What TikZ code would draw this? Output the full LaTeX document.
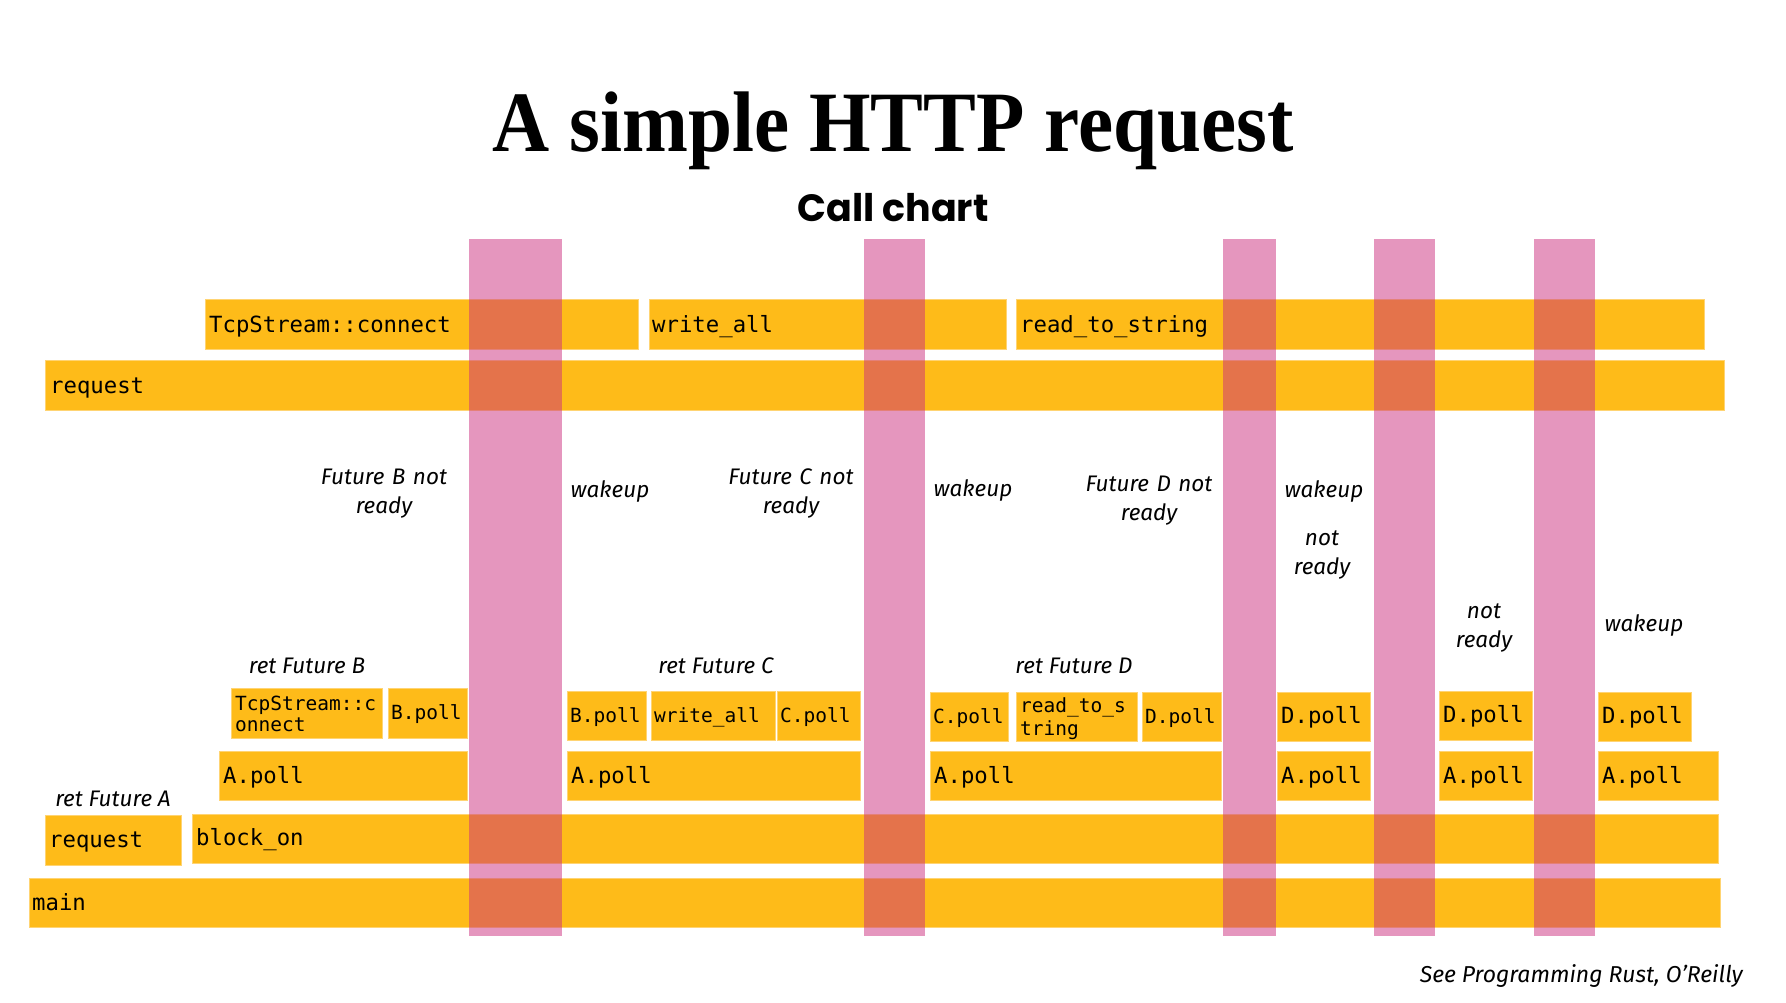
\documentclass[tikz,border=0pt]{standalone}
\usepackage{fontspec}
\setmonofont{DejaVu Sans Mono}
\newfontfamily\titlefont{Liberation Serif}
\newfontfamily\subfont{Poppins}
\newfontfamily\labfont{Fira Sans}
\definecolor{barorange}{RGB}{254,187,25}
\definecolor{baredge}{RGB}{255,212,115}
\definecolor{wakepink}{RGB}{203,45,125}
\tikzset{
  box/.style={anchor=north west, fill=barorange, draw=baredge, line width=0.8pt, inner sep=0pt, outer sep=0pt},
  wake/.style={anchor=north west, fill=wakepink, fill opacity=0.5, draw=none, inner sep=0pt, outer sep=0pt},
  code/.style={font=\ttfamily\fontsize{22.3}{24}\selectfont, inner sep=0pt, anchor=base west},
  smallcode/.style={font=\ttfamily\fontsize{19.5}{22}\selectfont, inner sep=0pt, anchor=base west},
  lab/.style={font=\labfont\itshape\fontsize{22.5}{29}\selectfont, inner sep=0pt, anchor=base},
  lab2/.style={lab, text width=170pt, align=center},
}
\newcommand\bx[5]{\node[box, minimum width={(#4-#2)*1pt}, minimum height={(#5-#3)*1pt}] (#1) at (#2,#3) {};}
\newcommand\wk[5]{\node[wake, minimum width={(#4-#2)*1pt}, minimum height={(#5-#3)*1pt}] (#1) at (#2,#3) {};}
\begin{document}
\begin{tikzpicture}[x=1pt,y=-1pt]
\useasboundingbox (0,0) rectangle (1786,1003);
% title
\node[font=\titlefont\bfseries\fontsize{86}{90}\selectfont, anchor=base, inner sep=0pt] (title) at (893,152) {\scalebox{0.92}[1]{A simple HTTP request}};
\node[font=\subfont\bfseries\fontsize{38}{42}\selectfont, anchor=base, inner sep=0pt] (sub) at (893,222) {Call chart};
% top rows
\bx{b_tcp}{205}{299}{638}{349}
\bx{b_write}{649}{299}{1006}{349}
\bx{b_read}{1016}{299}{1704}{349}
\bx{b_req}{45}{360}{1724}{410}
% lower groups
\bx{g1_tcp}{231}{688}{382}{738}
\bx{g1_b}{388}{688}{467}{738}
\bx{g1_a}{219}{751}{467}{800}
\bx{g2_b}{567}{691}{646}{740}
\bx{g2_w}{651}{691}{775}{740}
\bx{g2_c}{777}{691}{860}{740}
\bx{g2_a}{567}{751}{860}{800}
\bx{g3_c}{930}{692}{1008}{741}
\bx{g3_r}{1016}{692}{1137}{741}
\bx{g3_d}{1142}{692}{1221}{741}
\bx{g3_a}{930}{751}{1221}{800}
\bx{g4_d}{1277}{692}{1370}{741}
\bx{g4_a}{1277}{751}{1370}{800}
\bx{g5_d}{1439}{691}{1532}{740}
\bx{g5_a}{1439}{751}{1532}{800}
\bx{g6_d}{1598}{692}{1691}{741}
\bx{g6_a}{1598}{751}{1718}{800}
\bx{b_req2}{45}{815}{181}{865}
\bx{b_block}{192}{814}{1718}{863}
\bx{b_main}{29}{878}{1720}{927}
% wake bars
\wk{w1}{469}{239}{562}{936}
\wk{w2}{864}{239}{925}{936}
\wk{w3}{1223}{239}{1276}{936}
\wk{w4}{1374}{239}{1435}{936}
\wk{w5}{1534}{239}{1595}{936}
% code texts
\node[code] (t_tcp) at (209,332) {TcpStream::connect};
\node[code] (t_write) at (652,332) {write\_all};
\node[code] (t_read) at (1020,332) {read\_to\_string};
\node[code] (t_req) at (50,393) {request};
\node[smallcode, text width=140pt, align=left, font=\ttfamily\fontsize{19.5}{21}\selectfont] (t_g1tcp) at (235,710) {TcpStream::c\\onnect};
\node[smallcode] (t_g1b) at (391,719) {B.poll};
\node[code] (t_g1a) at (223,783) {A.poll};
\node[smallcode] (t_g2b) at (570,722) {B.poll};
\node[smallcode] (t_g2w) at (654,722) {write\_all};
\node[smallcode] (t_g2c) at (780,722) {C.poll};
\node[code] (t_g2a) at (571,783) {A.poll};
\node[smallcode] (t_g3c) at (933,723) {C.poll};
\node[smallcode, text width=120pt, align=left, font=\ttfamily\fontsize{19.5}{23}\selectfont] (t_g3r) at (1020,712) {read\_to\_s\\tring};
\node[smallcode] (t_g3d) at (1145,723) {D.poll};
\node[code] (t_g3a) at (934,783) {A.poll};
\node[code] (t_g4d) at (1281,723) {D.poll};
\node[code] (t_g4a) at (1281,783) {A.poll};
\node[code] (t_g5d) at (1443,722) {D.poll};
\node[code] (t_g5a) at (1443,783) {A.poll};
\node[code] (t_g6d) at (1602,723) {D.poll};
\node[code] (t_g6a) at (1602,783) {A.poll};
\node[code] (t_req2) at (49,847) {request};
\node[code] (t_block) at (196,845) {block\_on};
\node[code] (t_main) at (32,910) {main};
% labels
\node[lab2] (l_b) at (384,484) {Future B not\\ready};
\node[lab] (l_w1) at (610,497) {wakeup};
\node[lab2] (l_c) at (791,484) {Future C not\\ready};
\node[lab] (l_w2) at (973,496) {wakeup};
\node[lab2] (l_d) at (1149,491) {Future D not\\ready};
\node[lab] (l_w3) at (1324,497) {wakeup};
\node[lab2] (l_nr1) at (1322,545) {not\\ready};
\node[lab2] (l_nr2) at (1484,618) {not\\ready};
\node[lab] (l_w4) at (1644,631) {wakeup};
\node[lab] (l_rb) at (307,673) {ret Future B};
\node[lab] (l_rc) at (716,673) {ret Future C};
\node[lab] (l_rd) at (1074,673) {ret Future D};
\node[lab] (l_ra) at (113,806) {ret Future A};
\node[font=\labfont\itshape\fontsize{23}{26}\selectfont, anchor=base east, inner sep=0pt] (src) at (1743,982) {See Programming Rust, O’Reilly};
\end{tikzpicture}
\end{document}
